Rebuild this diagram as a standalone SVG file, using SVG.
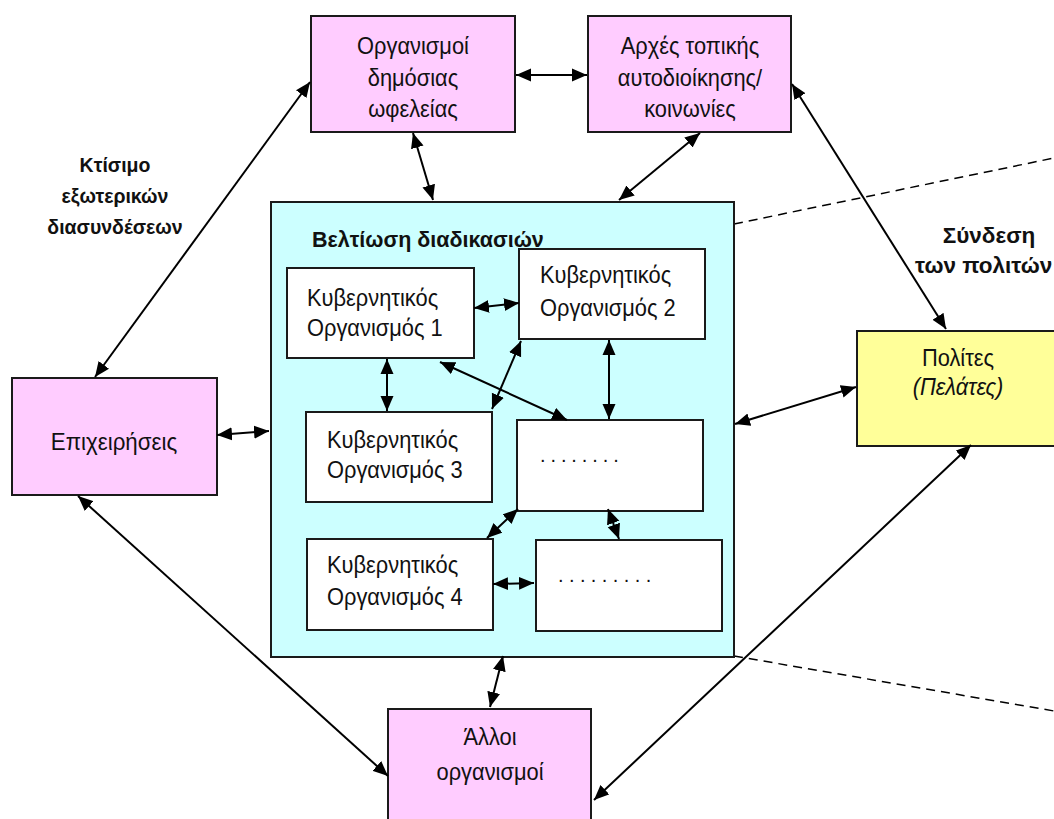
<svg xmlns="http://www.w3.org/2000/svg" width="1054" height="819" viewBox="0 0 1054 819">
  <style>
    .box { stroke: #1a1a1a; stroke-width: 2; }
    .ext { fill: #ffccff; }
    .cit { fill: #ffff99; }
    .core { fill: #ccffff; }
    .gov { fill: #ffffff; }
    .t { font-family: "Liberation Sans", Arial, sans-serif; font-size: 23.5px; fill: #111; }
    .c { text-anchor: middle; }
    .b { font-weight: bold; }
    .i { font-style: italic; }
    .dots { font-family: "Liberation Sans", Arial, sans-serif; font-size: 20px; fill: #111; }
    .arr { stroke: #000; stroke-width: 2; fill: none; marker-start: url(#ah); marker-end: url(#ah); }
    .dash { stroke: #000; stroke-width: 1.5; fill: none; stroke-dasharray: 9 6; }
  </style>
  <defs>
    <marker id="ah" markerUnits="userSpaceOnUse" markerWidth="16" markerHeight="14" refX="15" refY="6.5" orient="auto-start-reverse" viewBox="0 0 16 13">
      <path d="M0,0 L15,6.5 L0,13 z" fill="#000"/>
    </marker>
  </defs>
  <rect width="1054" height="819" fill="#ffffff"/>

  <!-- scope guides -->
  <g id="guides">
    <line class="dash" x1="734" y1="224" x2="1054" y2="158"/>
    <line class="dash" x1="734" y1="656" x2="1054" y2="711"/>
  </g>

  <g id="utilities">
    <rect class="box ext" x="311" y="16" width="204" height="116"/>
    <text class="t c" transform="translate(413 54) scale(0.93 1)">Οργανισμοί</text>
    <text class="t c" transform="translate(413 86) scale(0.93 1)">δημόσιας</text>
    <text class="t c" transform="translate(413 117) scale(0.93 1)">ωφελείας</text>
  </g>

  <g id="local-authorities">
    <rect class="box ext" x="588" y="16" width="203" height="116"/>
    <text class="t c" transform="translate(690 54) scale(0.93 1)">Αρχές τοπικής</text>
    <text class="t c" transform="translate(690 86) scale(0.93 1)">αυτοδιοίκησης/</text>
    <text class="t c" transform="translate(690 117) scale(0.93 1)">κοινωνίες</text>
  </g>

  <g id="business">
    <rect class="box ext" x="12" y="378" width="205" height="117"/>
    <text class="t c" transform="translate(114 450) scale(0.95 1)">Επιχειρήσεις</text>
  </g>

  <g id="citizens">
    <rect class="box cit" x="857" y="331" width="210" height="115"/>
    <text class="t c" transform="translate(958 366) scale(0.93 1)">Πολίτες</text>
    <text class="t c i" transform="translate(958 395) scale(0.93 1)">(Πελάτες)</text>
  </g>

  <g id="other-orgs">
    <rect class="box ext" x="388" y="709" width="203" height="125"/>
    <text class="t c" transform="translate(490 745) scale(0.93 1)">Άλλοι</text>
    <text class="t c" transform="translate(490 780) scale(0.93 1)">οργανισμοί</text>
  </g>

  <g id="process-improvement">
    <rect class="box core" x="271" y="202" width="463" height="455"/>
    <text class="t b" x="312" y="247" style="font-size:21.5px">Βελτίωση διαδικασιών</text>
  </g>

  <g id="gov-1">
    <rect class="box gov" x="287" y="268" width="187" height="90"/>
    <text class="t" transform="translate(307 306) scale(0.93 1)">Κυβερνητικός</text>
    <text class="t" transform="translate(307 336) scale(0.93 1)">Οργανισμός 1</text>
  </g>

  <g id="gov-2">
    <rect class="box gov" x="519" y="249" width="186" height="90"/>
    <text class="t" transform="translate(540 283) scale(0.93 1)">Κυβερνητικός</text>
    <text class="t" transform="translate(540 316) scale(0.93 1)">Οργανισμός 2</text>
  </g>

  <g id="gov-3">
    <rect class="box gov" x="306" y="412" width="186" height="90"/>
    <text class="t" transform="translate(327 448) scale(0.93 1)">Κυβερνητικός</text>
    <text class="t" transform="translate(327 478) scale(0.93 1)">Οργανισμός 3</text>
  </g>

  <g id="gov-more-1">
    <rect class="box gov" x="517" y="420" width="186" height="91"/>
    <text class="dots" x="540" y="462" letter-spacing="4.9">........</text>
  </g>

  <g id="gov-4">
    <rect class="box gov" x="307" y="539" width="186" height="91"/>
    <text class="t" transform="translate(327 573) scale(0.93 1)">Κυβερνητικός</text>
    <text class="t" transform="translate(327 605) scale(0.93 1)">Οργανισμός 4</text>
  </g>

  <g id="gov-more-2">
    <rect class="box gov" x="536" y="540" width="186" height="91"/>
    <text class="dots" x="558" y="582" letter-spacing="5.4">.........</text>
  </g>

  <g id="labels">
    <text class="t c b" x="115" y="172" style="font-size:19.5px">Κτίσιμο</text>
    <text class="t c b" x="115" y="203" style="font-size:19.5px">εξωτερικών</text>
    <text class="t c b" x="115" y="234" style="font-size:19.5px">διασυνδέσεων</text>
    <text class="t c b" x="989" y="243" style="font-size:22.5px">Σύνδεση</text>
    <text class="t b" x="915" y="273" style="font-size:22.5px">των πολιτών</text>
  </g>

  <g id="connectors">
    <line class="arr" x1="516" y1="75" x2="587" y2="75"/>
    <line class="arr" x1="413" y1="133" x2="433" y2="200"/>
    <line class="arr" x1="700" y1="133" x2="619" y2="200"/>
    <line class="arr" x1="310" y1="82" x2="95" y2="377"/>
    <line class="arr" x1="792" y1="84" x2="946" y2="329"/>
    <line class="arr" x1="217" y1="435" x2="269" y2="431"/>
    <line class="arr" x1="856" y1="387" x2="735" y2="424"/>
    <line class="arr" x1="78" y1="496" x2="388" y2="776"/>
    <line class="arr" x1="971" y1="445" x2="594" y2="800"/>
    <line class="arr" x1="503" y1="656" x2="490" y2="707"/>
    <line class="arr" x1="474" y1="308" x2="519" y2="303"/>
    <line class="arr" x1="387" y1="359" x2="387" y2="411"/>
    <line class="arr" x1="609" y1="340" x2="609" y2="419"/>
    <line class="arr" x1="440" y1="362" x2="567" y2="420"/>
    <line class="arr" x1="521" y1="341" x2="492" y2="409"/>
    <line class="arr" x1="518" y1="509" x2="487" y2="538"/>
    <line class="arr" x1="608" y1="509" x2="619" y2="539"/>
    <line class="arr" x1="493" y1="584" x2="534" y2="583"/>
  </g>
</svg>
